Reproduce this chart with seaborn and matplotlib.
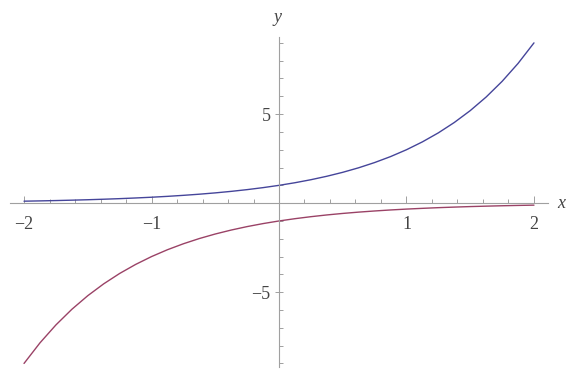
import numpy as np
import pandas as pd
import matplotlib
matplotlib.use("Agg")
import matplotlib.pyplot as plt
from matplotlib.ticker import FixedLocator, MultipleLocator
import seaborn as sns

# valores
x_vals = [-2.0, -1.875, -1.75, -1.625, -1.5, -1.375, -1.25, -1.125, -1.0,
          -0.875, -0.75, -0.625, -0.5, -0.375, -0.25, -0.125, 0.0,
          0.125, 0.25, 0.375, 0.5, 0.625, 0.75, 0.875, 1.0,
          1.125, 1.25, 1.375, 1.5, 1.625, 1.75, 1.875, 2.0]
azul = [0.111, 0.127, 0.146, 0.168, 0.192, 0.221, 0.253, 0.291, 0.333,
        0.382, 0.439, 0.503, 0.577, 0.662, 0.760, 0.872, 1.0,
        1.147, 1.316, 1.510, 1.732, 1.987, 2.280, 2.615, 3.0,
        3.442, 3.948, 4.530, 5.196, 5.961, 6.839, 7.845, 9.0]
rojo = [-9.0, -7.845, -6.839, -5.961, -5.196, -4.530, -3.948, -3.442, -3.0,
        -2.615, -2.280, -1.987, -1.732, -1.510, -1.316, -1.147, -1.0,
        -0.872, -0.760, -0.662, -0.577, -0.503, -0.439, -0.382, -0.333,
        -0.291, -0.253, -0.221, -0.192, -0.168, -0.146, -0.127, -0.111]

x_ticks = [-2, -1, 1, 2]
x_tick_labels = ["\u22122", "\u22121", "1", "2"]
y_ticks = [-5, 5]
y_tick_labels = ["\u22125", "5"]

df = pd.DataFrame({"x": x_vals, "azul": azul, "rojo": rojo})

sns.set_style("white")
plt.rcParams["font.family"] = ["Liberation Serif", "DejaVu Serif"]

fig = plt.figure(figsize=(5.75, 3.69), dpi=100)
ax = fig.add_axes([10 / 575, 1 - 367 / 369, 538 / 575, 330 / 369])

sns.lineplot(x="x", y="azul", data=df, ax=ax, color="#45459a", linewidth=1.0, sort=False)
sns.lineplot(x="x", y="rojo", data=df, ax=ax, color="#9a4266", linewidth=1.0, sort=False)

ax.set_xlim(-2.11, 2.11)
ax.set_ylim(-9.2, 9.33)

gris = "#a0a0a0"
for lado in ["top", "right"]:
    ax.spines[lado].set_visible(False)
for lado in ["left", "bottom"]:
    ax.spines[lado].set_position("zero")
    ax.spines[lado].set_color(gris)
    ax.spines[lado].set_linewidth(0.8)

ax.xaxis.set_major_locator(FixedLocator(x_ticks))
ax.set_xticklabels(x_tick_labels)
ax.xaxis.set_minor_locator(MultipleLocator(0.2))
ax.yaxis.set_major_locator(FixedLocator(y_ticks))
ax.set_yticklabels(y_tick_labels)
ax.yaxis.set_minor_locator(MultipleLocator(1))

ax.tick_params(which="both", direction="in", color=gris, width=0.7,
               labelsize=13, labelcolor="#444444")
ax.tick_params(axis="x", which="both", bottom=True, top=False)
ax.tick_params(axis="y", which="both", left=True, right=False)
ax.tick_params(which="major", length=5)
ax.tick_params(which="minor", length=3)
ax.tick_params(axis="x", which="major", pad=9)
ax.tick_params(axis="y", which="major", direction="inout", length=6, pad=3)

ax.set_xlabel("")
ax.set_ylabel("")
ax.text(2.18, 0.0, "x", style="italic", fontsize=13, color="#444444",
        ha="left", va="center", clip_on=False)
ax.text(-0.01, 10.4, "y", style="italic", fontsize=13, color="#444444",
        ha="center", va="center", clip_on=False)

fig.savefig("out.png", dpi=100)
